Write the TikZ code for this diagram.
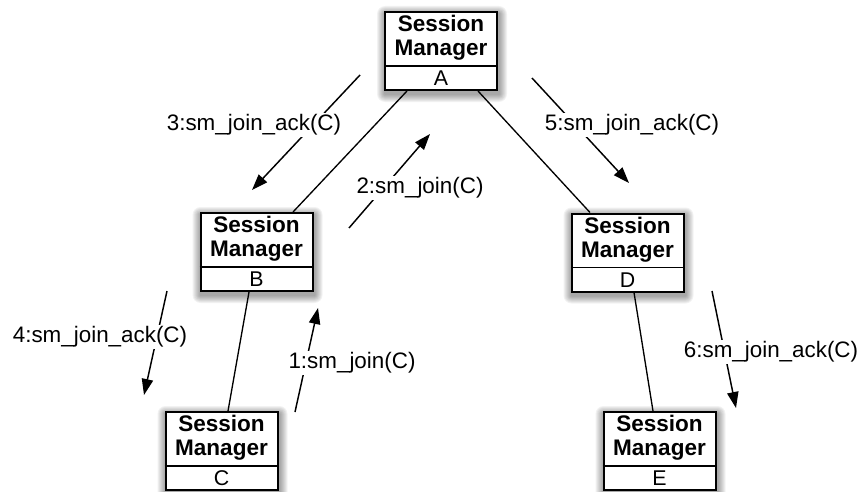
\documentclass[tikz,border=0pt]{standalone}
\usepackage{fontspec}
\setmainfont{Liberation Sans}
\usetikzlibrary{calc,arrows.meta,backgrounds}
\tikzset{
  smbox/.style={draw=black, line width=1.5pt, fill=white, minimum width=84pt, minimum height=58.5pt, inner sep=0pt},
  shadowlayer/.style={fill=black, opacity=0.05},
  divline/.style={line width=1.2pt},
  titletext/.style={font=\fontsize{16.9pt}{18pt}\selectfont\bfseries, align=center, inner sep=0pt},
  lettertext/.style={font=\fontsize{16pt}{18pt}\selectfont, inner sep=0pt},
  link/.style={line width=1pt},
  msg/.style={line width=1.1pt, -{Triangle[length=12pt,width=8.5pt]}},
  msglabel/.style={font=\fontsize{16.8pt}{18pt}\selectfont, fill=white, inner sep=1pt}
}
\newcommand\smnode[4]{%
  \node[smbox] (#1) at (#2,#3) {};
  \begin{scope}[on background layer]
    \foreach \e in {1,...,8}
      \fill[shadowlayer, rounded corners=\e*0.75pt] ($(#1.south west)+(1-\e,3+\e)$) rectangle ($(#1.north east)+(1+\e,3-\e)$);
  \end{scope}
  \draw[divline] ($(#1.south west)+(0,-25)$) -- ($(#1.south east)+(0,-25)$);
  \node[titletext] (#1t) at ($(#1.north)+(0,27)$) {Session\\Manager};
  \node[lettertext] (#1l) at ($(#1.south)+(0,-12.5)$) {#4};
}
\begin{document}
\begin{tikzpicture}[x=0.75pt, y=-0.75pt]
\useasboundingbox (0,0) rectangle (863,492);
\smnode{A}{441}{51}{A}
\smnode{B}{256.5}{252}{B}
\smnode{C}{221.5}{451}{C}
\smnode{D}{627.5}{252.5}{D}
\smnode{E}{659.5}{451}{E}
% connectors
\draw[link] ($(A.south)+(-34,0)$) -- ($(B.north)+(36.5,0)$);
\draw[link] ($(A.south)+(37,0)$) -- ($(D.north)+(-37.5,0)$);
\draw[link] ($(B.south)+(-7.5,0)$) -- ($(C.north)+(6.5,0)$);
\draw[link] ($(D.south)+(6.5,0)$) -- ($(E.north)+(-6.5,0)$);
% messages
\coordinate (m3s) at (360,75);  \coordinate (m3e) at (252,190);
\coordinate (m2s) at (349,228); \coordinate (m2e) at (430,134);
\coordinate (m5s) at (532,78);  \coordinate (m5e) at (629,183);
\coordinate (m4s) at (167,291); \coordinate (m4e) at (144,395);
\coordinate (m1s) at (295,412); \coordinate (m1e) at (318,308);
\coordinate (m6s) at (712,291); \coordinate (m6e) at (736,408);
\draw[msg] (m3s) -- (m3e);
\draw[msg] (m2s) -- (m2e);
\draw[msg] (m5s) -- (m5e);
\draw[msg] (m4s) -- (m4e);
\draw[msg] (m1s) -- (m1e);
\draw[msg] (m6s) -- (m6e);
\node[msglabel] (l3) at (254,125) {3:sm\_join\_ack(C)};
\node[msglabel] (l2) at (420,188) {2:sm\_join(C)};
\node[msglabel] (l5) at (632,125) {5:sm\_join\_ack(C)};
\node[msglabel] (l4) at (100,337) {4:sm\_join\_ack(C)};
\node[msglabel] (l1) at (352,363) {1:sm\_join(C)};
\node[msglabel] (l6) at (771,352) {6:sm\_join\_ack(C)};
\end{tikzpicture}
\end{document}
